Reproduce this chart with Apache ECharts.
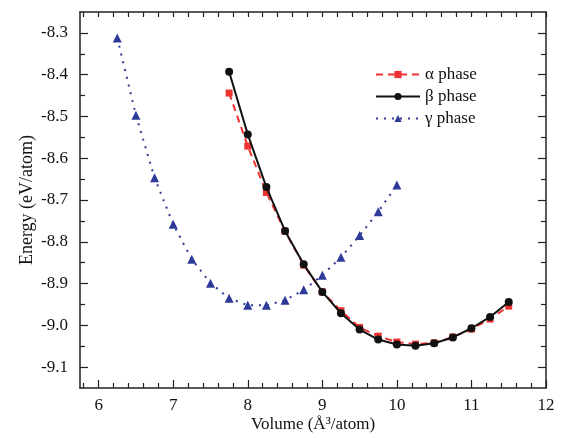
<!DOCTYPE html>
<html><head><meta charset="utf-8">
<script src="https://cdn.jsdelivr.net/npm/echarts@6/dist/echarts.min.js"></script>
<style>html,body{margin:0;padding:0;background:#fff}#c{width:563px;height:438px}</style>
</head><body><div id="c"></div>
<script>
const gammaX = [6.25,6.5,6.75,7.0,7.25,7.5,7.75,8.0,8.25,8.5,8.75,9.0,9.25,9.5,9.75,10.0];
const gammaY = [-8.312,-8.497,-8.647,-8.758,-8.842,-8.899,-8.935,-8.952,-8.952,-8.940,-8.915,-8.880,-8.837,-8.785,-8.728,-8.664];
const abX = [7.75,8.0,8.25,8.5,8.75,9.0,9.25,9.5,9.75,10.0,10.25,10.5,10.75,11.0,11.25,11.5];
const alphaY = [-8.444,-8.571,-8.682,-8.775,-8.856,-8.920,-8.965,-9.005,-9.026,-9.040,-9.045,-9.042,-9.028,-9.009,-8.985,-8.954];
const betaY = [-8.393,-8.543,-8.669,-8.774,-8.854,-8.920,-8.971,-9.010,-9.034,-9.046,-9.049,-9.043,-9.029,-9.007,-8.980,-8.944];
const xMajor = [6,7,8,9,10,11,12];
const xMinor = [5.8,6.2,6.4,6.6,6.8,7.2,7.4,7.6,7.8,8.2,8.4,8.6,8.8,9.2,9.4,9.6,9.8,10.2,10.4,10.6,10.8,11.2,11.4,11.6,11.8];
const yMajor = [-9.1,-9.0,-8.9,-8.8,-8.7,-8.6,-8.5,-8.4,-8.3];
const yMinor = [-9.05,-8.95,-8.85,-8.75,-8.65,-8.55,-8.45,-8.35];
const names = ['\u03b1 phase','\u03b2 phase','\u03b3 phase'];

const F = '"Liberation Serif","DejaVu Serif",serif';
const zip = (xs, ys) => xs.map((x, i) => [x, ys[i]]);

function xa(pos, ticks, len, labels, line) {
  return {type:'value', min:5.75, max:12, position:pos, gridIndex:0,
    axisLine:{show:line, onZero:false, lineStyle:{color:'#222', width:1.5}},
    splitLine:{show:false},
    axisTick:{show:true, inside:true, length:len, customValues:ticks, lineStyle:{color:'#222', width:1.2}},
    axisLabel:{show:labels, customValues:ticks, margin:9, color:'#111', fontFamily:F, fontSize:17, formatter:v=>String(v)},
    name: labels ? 'Volume (\u00c5\u00b3/atom)' : '', nameLocation:'middle', nameGap:28, nameMoveOverlap:false,
    nameTextStyle:{color:'#111', fontFamily:F, fontSize:17}};
}
function ya(pos, ticks, len, labels, line) {
  return {type:'value', min:-9.15, max:-8.25, position:pos, gridIndex:0,
    axisLine:{show:line, onZero:false, lineStyle:{color:'#222', width:1.5}},
    splitLine:{show:false},
    axisTick:{show:true, inside:true, length:len, customValues:ticks, lineStyle:{color:'#222', width:1.2}},
    axisLabel:{show:labels, customValues:ticks, margin:12, color:'#111', fontFamily:F, fontSize:17, formatter:v=>v.toFixed(1)},
    name: labels ? 'Energy (eV/atom)' : '', nameLocation:'middle', nameGap:44, nameMoveOverlap:false,
    nameTextStyle:{color:'#111', fontFamily:F, fontSize:18}};
}

const chart = echarts.init(document.getElementById('c'), null, {renderer:'canvas'});
chart.setOption({
  animation:false,
  backgroundColor:'#fff',
  grid:{left:80, right:17, top:12, bottom:50, containLabel:false},
  xAxis:[xa('bottom', xMajor, 8, true, true), xa('bottom', xMinor, 5, false, false),
         xa('top', xMajor, 5, false, true), xa('top', xMinor, 5, false, false)],
  yAxis:[ya('left', yMajor, 8, true, true), ya('left', yMinor, 5, false, false),
         ya('right', yMajor, 8, false, true), ya('right', yMinor, 5, false, false)],
  legend:{left:370, top:61, orient:'vertical', itemWidth:44, itemHeight:9, itemGap:5,
    data:names, textStyle:{fontFamily:F, fontSize:17, color:'#111'}},
  series:[
    {name:names[0], type:'line', data:zip(abX, alphaY), symbol:'rect', symbolSize:7,
      itemStyle:{color:'#ee3333'}, lineStyle:{color:'#ee3333', width:2, type:[7,5]}, z:3},
    {name:names[1], type:'line', data:zip(abX, betaY), symbol:'circle', symbolSize:8,
      itemStyle:{color:'#111'}, lineStyle:{color:'#111', width:2}, z:4},
    {name:names[2], type:'line', data:zip(gammaX, gammaY), symbol:'triangle', symbolSize:9,
      itemStyle:{color:'#2e3a98'}, lineStyle:{color:'#2e3a98', width:2, type:[2,6]}, z:2}
  ]
});
</script></body></html>
